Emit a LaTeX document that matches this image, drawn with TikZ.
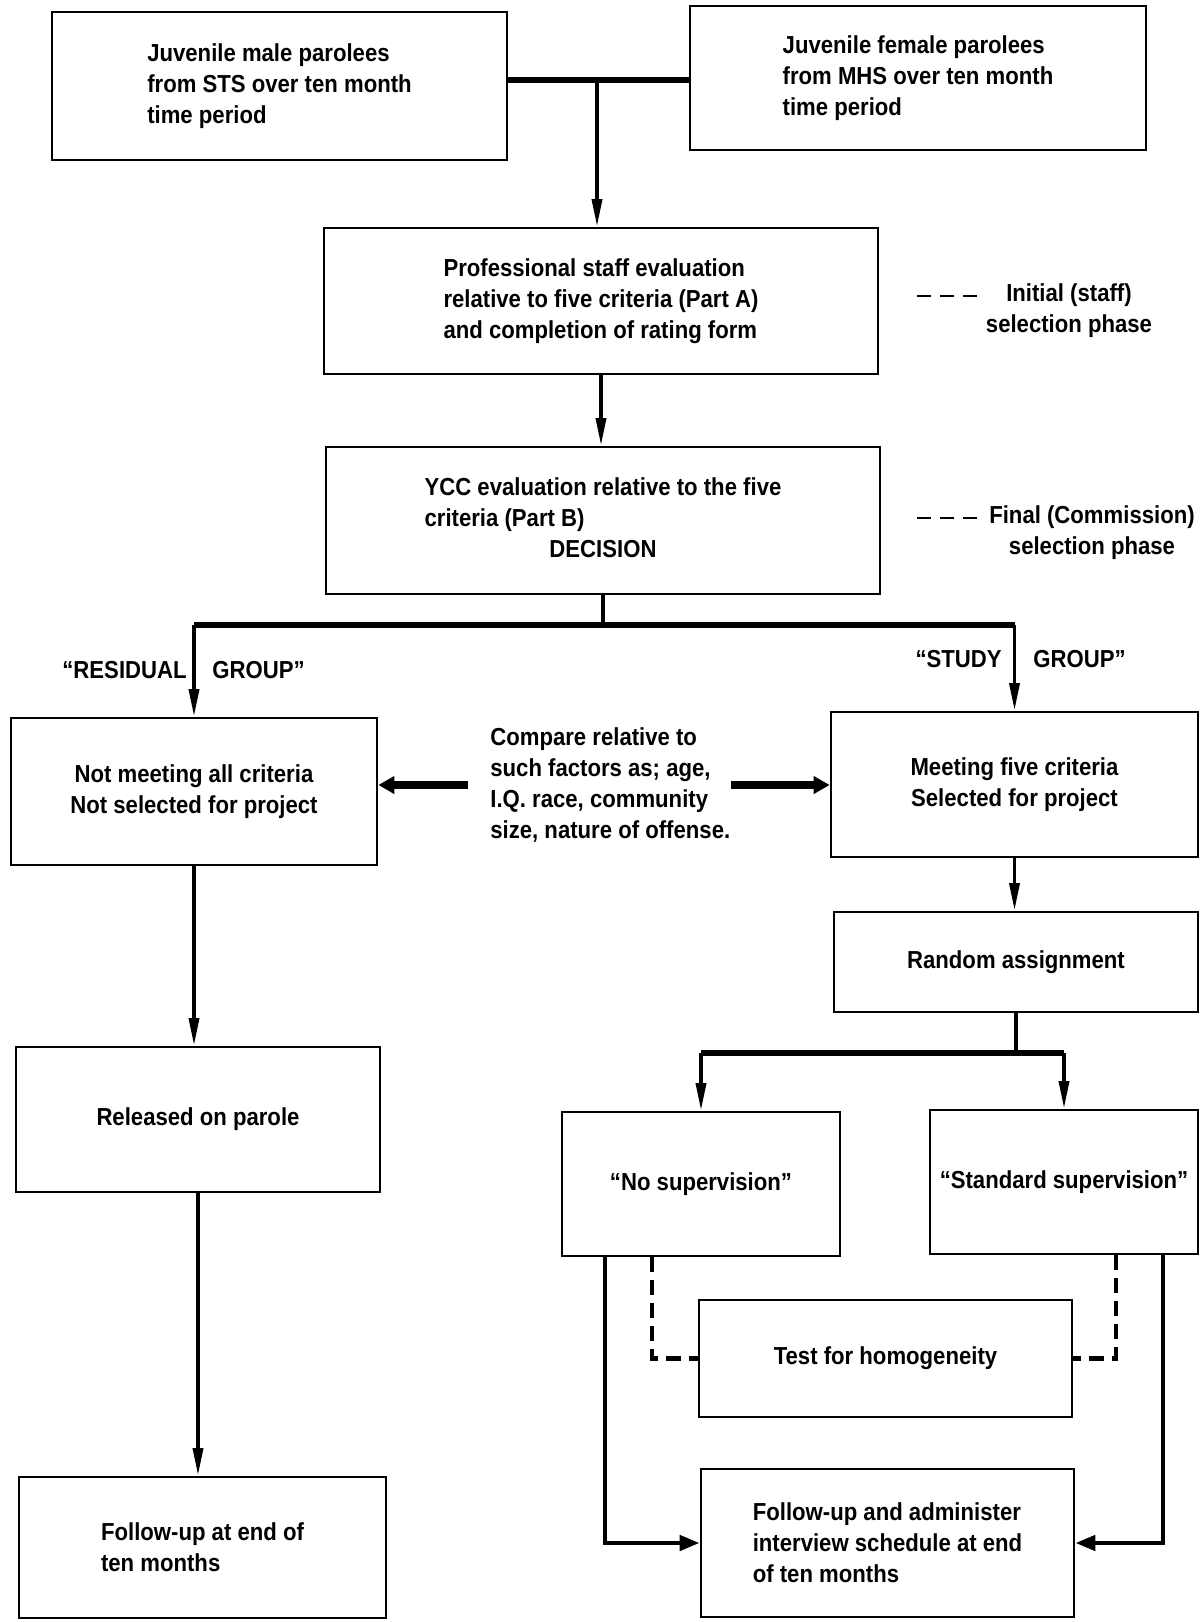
\documentclass[tikz,border=0pt]{standalone}
\usepackage{fontspec}
\setmainfont{Liberation Sans}[FakeStretch=0.9]
\usetikzlibrary{arrows.meta}
\newcommand\boxfont{\fontsize{14}{17.6}\selectfont\bfseries}
\tikzset{
	box/.style={draw, line width=1.6pt, inner sep=0pt, font=\boxfont},
	plain/.style={inner sep=0pt, font=\boxfont},
	barline/.style={line width=3pt},
	flowarrow/.style={line width=2pt, -{Triangle[length=0.55cm,width=0.2cm]}},
	cmparrow/.style={line width=4.5pt, -{Triangle[length=0.32cm,width=0.34cm]}},
	backarrow/.style={line width=2.6pt, -{Triangle[length=0.4cm,width=0.3cm]}},
	testline/.style={line width=2.4pt, dash pattern=on 0.3cm off 0.16cm},
	sidedash/.style={line width=1.4pt, dash pattern=on 0.28cm off 0.18cm},
}

\begin{document}
\begin{tikzpicture}[x=0.02cm, y=-0.02cm]
			%%%%% START %%%%%
			\useasboundingbox (0, 0) rectangle (1202, 1622);
			
			\node[box, minimum width=9.10cm, minimum height=2.96cm, align=left] (male) at (279.5, 86) {Juvenile male parolees\\from STS over ten month\\time period};
			\node[box, minimum width=9.12cm, minimum height=2.88cm, align=left] (female) at (918, 78) {Juvenile female parolees\\from MHS over ten month\\time period};
			
			\node[box, minimum width=11.08cm, minimum height=2.92cm, align=left] (prof) at (601, 301) {Professional staff evaluation\\relative to five criteria (Part A)\\and completion of rating form};
			\node[box, minimum width=11.08cm, minimum height=2.94cm] (ycc) at (603, 520.5) {\begin{tabular}{@{}l@{}}YCC evaluation relative to the five\\criteria (Part B)\\\multicolumn{1}{@{}c@{}}{DECISION}\end{tabular}};
			
			\node[plain, align=center] (initlbl) at (1069, 311) {Initial (staff)\\selection phase};
			\coordinate (initA) at (917, 296);
			\coordinate (initB) at (977, 296);
			\draw[sidedash] (initA) -- (initB);
			\node[plain, align=center] (finallbl) at (1092, 533) {Final (Commission)\\selection phase};
			\coordinate (finalA) at (917, 518);
			\coordinate (finalB) at (980, 518);
			\draw[sidedash] (finalA) -- (finalB);
			
			\node[box, minimum width=7.32cm, minimum height=2.94cm, align=center] (resid) at (194, 791.5) {Not meeting all criteria\\Not selected for project};
			\node[box, minimum width=7.34cm, minimum height=2.90cm, align=center] (study) at (1014.5, 784.5) {Meeting five criteria\\Selected for project};
			\node[plain, align=left, anchor=west] (compare) at (490, 785) {Compare relative to\\such factors as; age,\\I.Q. race, community\\size, nature of offense.};
			
			\node[plain, anchor=east] (residA) at (187, 670) {``RESIDUAL};
			\node[plain, anchor=west] (residB) at (212, 670) {GROUP''};
			\node[plain, anchor=east] (studyA) at (1002, 659) {``STUDY};
			\node[plain, anchor=west] (studyB) at (1033, 659) {GROUP''};
			
			\node[box, minimum width=7.28cm, minimum height=2.90cm] (released) at (198, 1119.5) {Released on parole};
			\node[box, minimum width=7.34cm, minimum height=2.82cm, align=left] (follow) at (202.5, 1547.5) {Follow-up at end of\\ten months};
			
			\node[box, minimum width=7.28cm, minimum height=2.00cm] (random) at (1016, 962) {Random assignment};
			\node[box, minimum width=5.56cm, minimum height=2.88cm] (nosup) at (701, 1184) {``No supervision''};
			\node[box, minimum width=5.36cm, minimum height=2.88cm] (stdsup) at (1064, 1182) {``Standard supervision''};
			\node[box, minimum width=7.46cm, minimum height=2.34cm] (homog) at (885.5, 1358.5) {Test for homogeneity};
			\node[box, minimum width=7.46cm, minimum height=2.96cm, align=left] (final) at (887.5, 1543) {Follow-up and administer\\interview schedule at end\\of ten months};
			
			% top join
			\coordinate (topjoin) at (597, 80);
			\draw[barline] (male.east |- topjoin) -- (female.west |- topjoin);
			\draw[flowarrow] (topjoin) -- (topjoin |- prof.north);
			\draw[flowarrow] (prof.south) -- (prof.south |- ycc.north);
			
			% decision split
			\coordinate (split) at (603, 625);
			\draw[line width=2pt] (ycc.south) -- (split);
			\draw[barline] (resid.north |- split) -- (study.north |- split);
			\draw[flowarrow] (resid.north |- split) -- (resid.north);
			\draw[flowarrow] (study.north |- split) -- (study.north);
			
			\draw[cmparrow] ([xshift=-0.44cm]compare.west) -- (compare.west -| resid.east);
			\draw[cmparrow] (compare.east) -- (compare.east -| study.west);
			
			% residual side
			\draw[flowarrow] (resid.south) -- (resid.south |- released.north);
			\draw[flowarrow] (released.south) -- (released.south |- follow.north);
			
			% study side
			\draw[flowarrow] (study.south) -- (study.south |- random.north);
			\coordinate (assign) at (1019, 1053);
			\draw[line width=2pt] (random.south) -- (random.south |- assign);
			\draw[barline] (nosup.north |- assign) -- (stdsup.north |- assign);
			\draw[flowarrow] (nosup.north |- assign) -- (nosup.north);
			\draw[flowarrow] (stdsup.north |- assign) -- (stdsup.north);
			
			\draw[testline] ([xshift=-0.98cm]nosup.south) |- (homog.west);
			\draw[testline] ([xshift=1.04cm]stdsup.south) |- (homog.east);
			
			\draw[backarrow] ([xshift=-1.92cm]nosup.south) |- (final.west);
			\draw[backarrow] ([xshift=1.98cm]stdsup.south) |- (final.east);
			
			%%%%% END %%%%%
\end{tikzpicture}
\end{document}
